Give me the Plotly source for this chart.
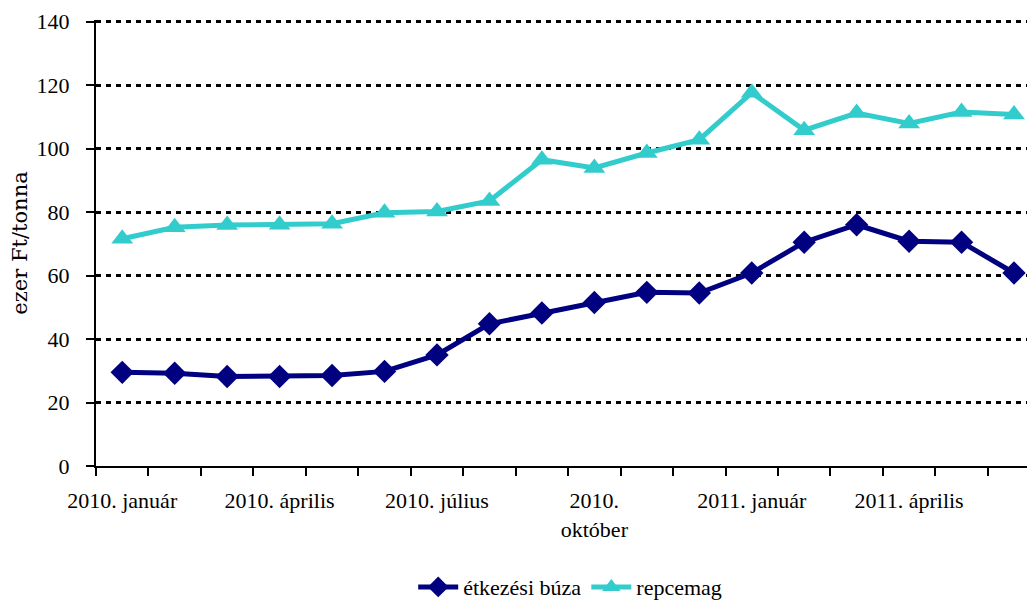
import plotly.graph_objects as go

months = ["2010. január", "2010. február", "2010. március", "2010. április", "2010. május",
          "2010. június", "2010. július", "2010. augusztus", "2010. szeptember", "2010. október",
          "2010. november", "2010. december", "2011. január", "2011. február", "2011. március",
          "2011. április", "2011. május", "2011. június"]
tick_labels = ["2010. január", "2010. április", "2010. július", "2010.<br>október",
               "2011. január", "2011. április"]
tick_idx = [0, 3, 6, 9, 12, 15]

buza = [29.5, 29.2, 28.2, 28.2, 28.5, 29.8, 35.0, 44.8, 48.2, 51.5, 54.7, 54.5,
        60.8, 70.5, 76.0, 70.8, 70.5, 60.8]
repce = [71.6, 75.2, 75.9, 76.0, 76.3, 79.8, 80.2, 83.5, 96.5, 93.9, 98.6, 102.8,
         117.6, 105.8, 111.2, 107.9, 111.5, 110.7]

x = list(range(len(months)))

fig = go.Figure()
fig.add_trace(go.Scatter(
    x=x, y=buza, name="étkezési búza", mode="lines+markers",
    line=dict(color="#000080", width=5),
    marker=dict(symbol="diamond", size=18, color="#000080"),
    text=months, hovertemplate="%{text}: %{y}<extra></extra>"))
fig.add_trace(go.Scatter(
    x=x, y=repce, name="repcemag", mode="lines+markers",
    line=dict(color="#33CCCC", width=5),
    marker=dict(symbol="triangle-up", size=19, color="#33CCCC"),
    text=months, hovertemplate="%{text}: %{y}<extra></extra>"))

# page body has an 8px default margin, so the figure is sized to fit the window
fig.update_layout(
    width=1027, height=597,
    margin=dict(l=88, r=0, t=12, b=139),
    paper_bgcolor="white", plot_bgcolor="white",
    font=dict(family="Liberation Serif", size=22, color="black"),
    showlegend=True,
    legend=dict(orientation="h", xref="paper", x=0.505, xanchor="center",
                yref="container", y=0.03, yanchor="middle",
                font=dict(family="Liberation Serif", size=22), itemwidth=40,
                traceorder="normal"),
    xaxis=dict(
        range=[-0.5, 17.4], tickmode="array", tickvals=tick_idx, ticktext=tick_labels,
        ticks="", ticklabelstandoff=14, showgrid=False, zeroline=False, automargin=False,
        showline=True, linecolor="black", linewidth=2,
        minor=dict(tickmode="linear", tick0=-0.5, dtick=1, ticks="outside",
                   ticklen=8, tickwidth=2, tickcolor="black", showgrid=False),
    ),
    yaxis=dict(
        range=[0, 140.5], tickmode="linear", tick0=0, dtick=20, automargin=False,
        ticks="outside", ticklen=8, tickwidth=2, tickcolor="black",
        ticklabelstandoff=12,
        showline=True, linecolor="black", linewidth=2,
        showgrid=True, gridcolor="black", gridwidth=3, griddash="5px,5px",
        zeroline=False,
        title=dict(text="ezer Ft/tonna" + "\u00a0" * 6,
                   font=dict(family="DejaVu Serif", size=21), standoff=16),
    ),
)

fig.write_html("out.html")
